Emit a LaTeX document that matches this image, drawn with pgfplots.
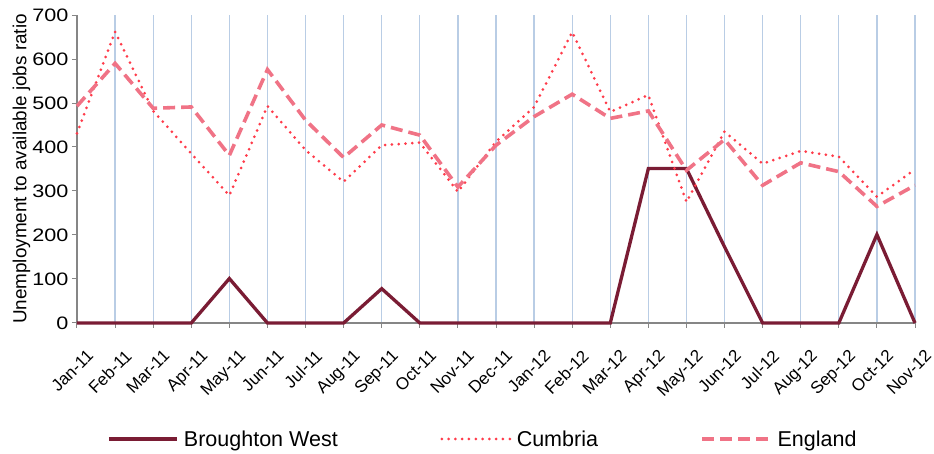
\documentclass[border=0pt]{standalone}
\usepackage{fontspec}
\setmainfont{Liberation Sans}
\newfontfamily\widefont[FakeStretch=1.2]{Liberation Sans}
\usepackage{pgfplots}
\pgfplotsset{compat=1.18}

\definecolor{bw}{HTML}{7A1C34}
\definecolor{cumb}{HTML}{FF3B4A}
\definecolor{eng}{HTML}{F07386}
\definecolor{gridblue}{HTML}{B9CDE5}
\definecolor{axgray}{HTML}{868686}

\begin{document}
\begin{tikzpicture}
\path[use as bounding box] (-77pt,-131pt) rectangle (857pt,323pt);
\begin{axis}[
  at={(0,0)}, anchor=south west,
  width=838pt, height=308pt, scale only axis,
  xmin=0, xmax=22, ymin=0, ymax=700,
  ytick={0,100,...,700},
  xtick={0,...,22},
  xticklabels={Jan-11,Feb-11,Mar-11,Apr-11,May-11,Jun-11,Jul-11,Aug-11,Sep-11,Oct-11,Nov-11,Dec-11,Jan-12,Feb-12,Mar-12,Apr-12,May-12,Jun-12,Jul-12,Aug-12,Sep-12,Oct-12,Nov-12},
  x tick label style={xshift=9pt, yshift=-19pt, rotate=45, anchor=north east, font=\fontsize{17}{17}\selectfont, inner sep=1pt},
  y tick label style={font=\widefont\fontsize{18}{18}\selectfont},
  /pgf/number format/assume math mode=true,
  axis lines*=left,
  axis line style={axgray, line width=1.5pt},
  tick style={axgray, line width=1pt},
  tick align=outside,
  major tick length=5pt,
  xmajorgrids,
  major x grid style={gridblue, line width=1.2pt},
  ylabel={Unemployment to available jobs ratio},
  every axis y label/.style={at={(axis description cs:0,0.5)}, xshift=-55.5pt, rotate=90, anchor=center,
    font=\fontsize{18.9}{18.9}\selectfont},
  clip=false,
  legend columns=3,
  legend style={at={(0.0358,-0.3766)}, anchor=west, draw=none, fill=none,
    inner xsep=0pt, inner ysep=0pt,
    font=\fontsize{21.5}{21.5}\selectfont,
    nodes={inner xsep=5.5pt},
    /tikz/every even column/.append style={column sep=97pt}},
  legend image code/.code={\draw[#1] (0pt,0pt) -- (68pt,0pt);},
]
\addplot[bw, line width=3.3pt] coordinates {
(0,0)(1,0)(2,0)(3,0)(4,101)(5,0)(6,0)(7,0)(8,78)(9,0)(10,0)(11,0)(12,0)(13,0)(14,0)(15,351)(16,351)(17,173)(18,0)(19,0)(20,0)(21,201)(22,0)
};
\addlegendentry{Broughton West}
\addplot[cumb, line width=3pt, dash pattern=on 0pt off 6.8pt, line cap=round] coordinates {
(0,431)(1,662)(2,482)(3,385)(4,290)(5,493)(6,393)(7,321)(8,404)(9,410)(10,298)(11,412)(12,491)(13,661)(14,480)(15,518)(16,275)(17,435)(18,362)(19,391)(20,378)(21,287)(22,349)
};
\addlegendentry{Cumbria}
\addplot[eng, line width=3.6pt, dash pattern=on 12pt off 6pt] coordinates {
(0,493)(1,590)(2,488)(3,491)(4,381)(5,576)(6,461)(7,376)(8,450)(9,427)(10,309)(11,404)(12,469)(13,520)(14,465)(15,482)(16,347)(17,417)(18,313)(19,364)(20,344)(21,265)(22,313)
};
\addlegendentry{England}
\end{axis}
\end{tikzpicture}
\end{document}
